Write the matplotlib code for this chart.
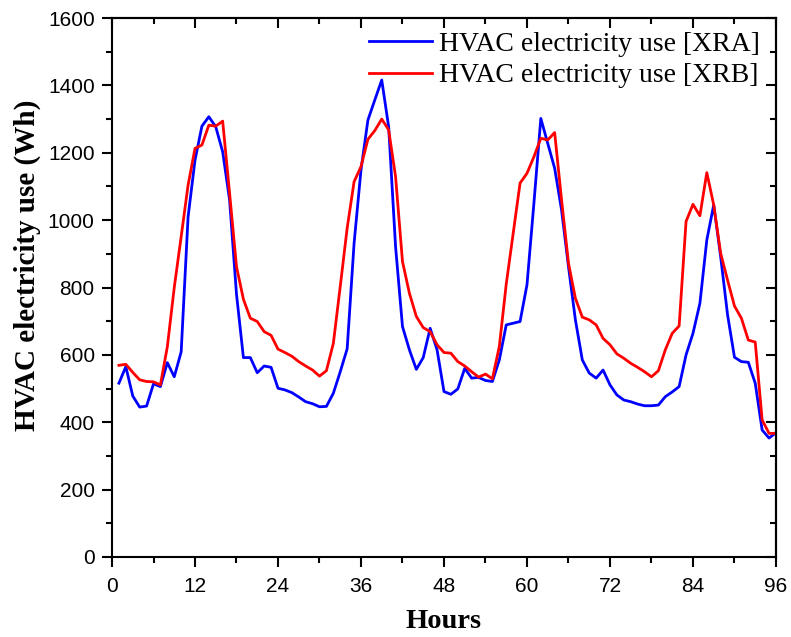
import matplotlib
matplotlib.use("Agg")
import matplotlib.pyplot as plt
from matplotlib.ticker import MultipleLocator

hours = list(range(1, 97))

xra = [516, 565, 478, 445, 448, 514, 506, 577, 535, 609,
       1010, 1178, 1279, 1307, 1277, 1203, 1060, 780, 592, 592,
       547, 567, 563, 501, 496, 488, 475, 461, 455, 446,
       447, 486, 550, 618, 931, 1149, 1297, 1357, 1416, 1277,
       921, 684, 615, 557, 592, 679, 615, 491, 483, 499,
       560, 531, 533, 524, 521, 585, 689, 694, 699, 808,
       1050, 1302, 1228, 1154, 1030, 862, 704, 585, 546, 531,
       555, 511, 481, 466, 461, 454, 449, 449, 451, 476,
       490, 506, 600, 664, 753, 941, 1045, 892, 719, 593,
       580, 578, 516, 377, 353, 369]
xrb = [569, 572, 548, 526, 521, 520, 511, 624, 800, 951,
       1104, 1213, 1223, 1282, 1279, 1294, 1080, 862, 765, 709,
       699, 669, 658, 617, 607, 596, 580, 567, 555, 537,
       553, 634, 803, 976, 1114, 1159, 1240, 1266, 1300, 1268,
       1129, 877, 783, 714, 681, 669, 630, 607, 605, 580,
       567, 550, 534, 543, 529, 625, 810, 960, 1110, 1139,
       1188, 1243, 1238, 1260, 1060, 872, 768, 712, 704, 689,
       649, 630, 603, 590, 575, 563, 550, 535, 553, 615,
       664, 686, 996, 1047, 1013, 1141, 1045, 902, 822, 745,
       709, 644, 638, 407, 367, 367]

xticks = [0, 12, 24, 36, 48, 60, 72, 84, 96]
yticks = [0, 200, 400, 600, 800, 1000, 1200, 1400, 1600]

fig = plt.figure(figsize=(7.91, 6.37), dpi=100)
ax = fig.add_axes([0.1416, 0.1256, 0.8394, 0.8461])

ax.plot(hours, xra, color="#0000ff", lw=2.0, label="HVAC electricity use [XRA]")
ax.plot(hours, xrb, color="#ff0000", lw=2.0, label="HVAC electricity use [XRB]")

ax.set_xlim(0, 96)
ax.set_ylim(0, 1600)
ax.set_xticks(xticks)
ax.set_yticks(yticks)
ax.xaxis.set_minor_locator(MultipleLocator(6))
ax.yaxis.set_minor_locator(MultipleLocator(100))
ax.tick_params(which="both", direction="out", top=False, right=False, width=1.5)
ax.tick_params(which="major", length=7.5)
ax.tick_params(which="minor", length=4)
ax.tick_params(axis="x", pad=7)
ax.tick_params(axis="y", pad=5)
for lab in ax.get_xticklabels() + ax.get_yticklabels():
    lab.set_fontfamily("Liberation Sans")
    lab.set_fontsize(15)
for s in ax.spines.values():
    s.set_linewidth(1.5)

# top and right ticks pointing inward, without labels
top = ax.secondary_xaxis("top")
top.set_xticks(xticks)
top.xaxis.set_minor_locator(MultipleLocator(6))
top.tick_params(which="both", direction="in", width=1.5, labeltop=False)
top.tick_params(which="major", length=7.5)
top.tick_params(which="minor", length=4)
top.spines["top"].set_linewidth(1.5)
right = ax.secondary_yaxis("right")
right.set_yticks(yticks)
right.yaxis.set_minor_locator(MultipleLocator(100))
right.tick_params(which="both", direction="in", width=1.5, labelright=False)
right.tick_params(which="major", length=7.5)
right.tick_params(which="minor", length=4)
right.spines["right"].set_linewidth(1.5)

ax.set_xlabel("Hours", fontfamily="Liberation Serif", fontweight="bold", fontsize=20.5, va="center")
ax.xaxis.set_label_coords(0.5, -0.1206)
ax.set_ylabel("HVAC electricity use (Wh)", fontfamily="Liberation Serif", fontweight="bold", fontsize=21, va="center")
ax.yaxis.set_label_coords(-0.128, 0.542)

ax.legend(loc="upper right", bbox_to_anchor=(0.988, 0.991), frameon=False,
          prop={"family": "Liberation Serif", "size": 20}, handlelength=2.27,
          handletextpad=0.25, labelspacing=0.23, borderaxespad=0.0, borderpad=0.3)

fig.savefig("out.png", dpi=100)
